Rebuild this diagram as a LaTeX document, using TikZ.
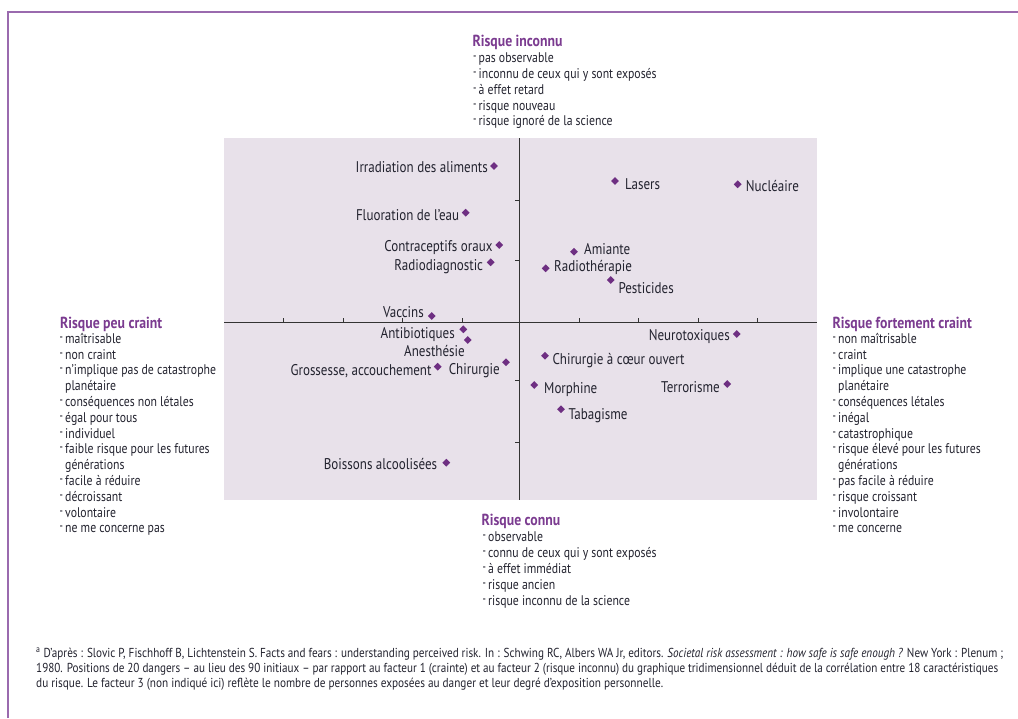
\documentclass[tikz,border=0pt]{standalone}
\usepackage{fontspec}
\setmainfont{PT Sans}[FakeStretch=0.84]
\newfontfamily\headfont{PT Sans}[FakeStretch=0.86]
\usetikzlibrary{shapes.geometric}
\definecolor{framec}{HTML}{9A6AAE}
\definecolor{shadec}{HTML}{E8E1EA}
\definecolor{markc}{HTML}{6E2F82}
\definecolor{headc}{HTML}{7B3B90}
\definecolor{ink}{HTML}{23232F}
\definecolor{axisc}{HTML}{333333}
\newcommand\dsh{\makebox[5.5pt][l]{\raisebox{2pt}{\scalebox{0.8}[1]{-}}}}
\newcommand\cnt{\hspace*{5.5pt}}
\newcommand\fline[2]{\resizebox{#1}{\height}{#2}}
\begin{document}
\begin{tikzpicture}[x=1pt,y=-1pt,
  ptm/.style={diamond, fill=markc, inner sep=0pt, minimum size=8pt},
  lbl/.style={font=\fontsize{15.5}{17}\selectfont, text=ink, inner sep=0pt},
  hd/.style={font=\headfont\bfseries\fontsize{16}{18}\selectfont, text=headc, inner sep=0pt, anchor=base west},
  itm/.style={font=\fontsize{14}{16}\selectfont, text=ink, inner sep=0pt, anchor=base west},
  fn/.style={font=\fontsize{13}{15}\selectfont, text=ink, inner sep=0pt, anchor=base west},
  axl/.style={draw=axisc, line width=0.9pt}]
\useasboundingbox (0,0) rectangle (1018,718);
\fill[white] (0,0) rectangle (1018,718);
\draw[framec, line width=2pt] (8,718) -- (8,12) -- (1018,12);
\fill[shadec] (224,138) rectangle (817,500);
% axes
\draw[axl] (224,322) -- (817,322);
\draw[axl] (519,138) -- (519,500);
\foreach \x in {283,343,402,462,579,638,698,757} \draw[axl] (\x,322) -- (\x,317.5);
\foreach \y in {200,260,380,442} \draw[axl] (519,\y) -- (514.5,\y);
% points
\foreach \n/\x/\y in {irr/494/166, flu/465.7/212.7, con/499.3/245, rad/490.7/262.3,
  vac/431.7/316, las/615/181, nuc/737.7/184.3, ami/574/251.7, rth/545.7/268.3,
  pes/610.7/280, ant/463.3/329.3, ane/467.7/340, gro/437.7/366.7, chi/506/362.3,
  boi/446.3/462.7, neu/736.7/334, cce/545/355.7, mor/534.3/385, ter/727.3/384, tab/561/409.3}
  \node[ptm] (\n) at (\x,\y) {};
% labels
\node[lbl, anchor=base east] (irr-l) at (488,172) {Irradiation des aliments};
\node[lbl, anchor=base east] (flu-l) at (459.3,220.7) {Fluoration de l’eau};
\node[lbl, anchor=base east] (con-l) at (492.7,251.7) {Contraceptifs oraux};
\node[lbl, anchor=base east] (rad-l) at (483.3,270) {Radiodiagnostic};
\node[lbl, anchor=base east] (vac-l) at (424,317.7) {Vaccins};
\node[lbl, anchor=base west] (las-l) at (625,189) {Lasers};
\node[lbl, anchor=base west] (nuc-l) at (745.7,191.7) {Nucléaire};
\node[lbl, anchor=base west] (ami-l) at (584,254) {Amiante};
\node[lbl, anchor=base west] (rth-l) at (554,271.7) {Radiothérapie};
\node[lbl, anchor=base west] (pes-l) at (618.3,293.3) {Pesticides};
\node[lbl, anchor=base east] (ant-l) at (455,338.3) {Antibiotiques};
\node[lbl, anchor=base east] (ane-l) at (465,356.7) {Anesthésie};
\node[lbl, anchor=base east] (gro-l) at (431.7,375.7) {Grossesse, accouchement};
\node[lbl, anchor=base east] (chi-l) at (500,374.3) {Chirurgie};
\node[lbl, anchor=base east] (boi-l) at (437.3,469.3) {Boissons alcoolisées};
\node[lbl, anchor=base east] (neu-l) at (730,340) {Neurotoxiques};
\node[lbl, anchor=base west] (cce-l) at (552.3,364.3) {Chirurgie à cœur ouvert};
\node[lbl, anchor=base west] (mor-l) at (544,393.7) {Morphine};
\node[lbl, anchor=base east] (ter-l) at (720,392.3) {Terrorisme};
\node[lbl, anchor=base west] (tab-l) at (568.3,419.3) {Tabagisme};
% top block
\node[hd] (top-h) at (472.5,46.7) {Risque inconnu};
\foreach \t [count=\i] in {{\dsh pas observable},{\dsh inconnu de ceux qui y sont exposés},
  {\dsh à effet retard},{\dsh risque nouveau},{\dsh risque ignoré de la science}}
  \node[itm] (top-\i) at (473,47+15.75*\i) {\t};
% left block
\node[hd] (lft-h) at (60,328.3) {Risque peu craint};
\foreach \t [count=\i] in {{\dsh maîtrisable},{\dsh non craint},{\dsh n’implique pas de catastrophe},
  {\cnt planétaire},{\dsh conséquences non létales},{\dsh égal pour tous},{\dsh individuel},
  {\dsh faible risque pour les futures},{\cnt générations},{\dsh facile à réduire},
  {\dsh décroissant},{\dsh volontaire},{\dsh ne me concerne pas}}
  \node[itm] (lft-\i) at (59.5,327.5+15.8*\i) {\t};
% right block
\node[hd] (rgt-h) at (832.5,328.3) {Risque fortement craint};
\foreach \t [count=\i] in {{\dsh non maîtrisable},{\dsh craint},{\dsh implique une catastrophe},
  {\cnt planétaire},{\dsh conséquences létales},{\dsh inégal},{\dsh catastrophique},
  {\dsh risque élevé pour les futures},{\cnt générations},{\dsh pas facile à réduire},
  {\dsh risque croissant},{\dsh involontaire},{\dsh me concerne}}
  \node[itm] (rgt-\i) at (832.5,327.5+15.8*\i) {\t};
% bottom block
\node[hd] (bot-h) at (481.5,525) {Risque connu};
\foreach \t [count=\i] in {{\dsh observable},{\dsh connu de ceux qui y sont exposés},
  {\dsh à effet immédiat},{\dsh risque ancien},{\dsh risque inconnu de la science}}
  \node[itm] (bot-\i) at (482.5,526+15.8*\i) {\t};
% footnote
\node[fn] (fn-1) at (36,657.3) {\fline{967pt}{\textsuperscript{a} D’après : Slovic P, Fischhoff B, Lichtenstein S. Facts and fears : understanding perceived risk. In : Schwing RC, Albers WA Jr, editors. \textit{Societal risk assessment : how safe is safe enough ?} New York : Plenum ;}};
\node[fn] (fn-2) at (36,672.5) {\fline{962pt}{1980. Positions de 20 dangers – au lieu des 90 initiaux – par rapport au facteur 1 (crainte) et au facteur 2 (risque inconnu) du graphique tridimensionnel déduit de la corrélation entre 18 caractéristiques}};
\node[fn] (fn-3) at (36,687.5) {\fline{627pt}{du risque. Le facteur 3 (non indiqué ici) reflète le nombre de personnes exposées au danger et leur degré d’exposition personnelle.}};
\end{tikzpicture}
\end{document}
